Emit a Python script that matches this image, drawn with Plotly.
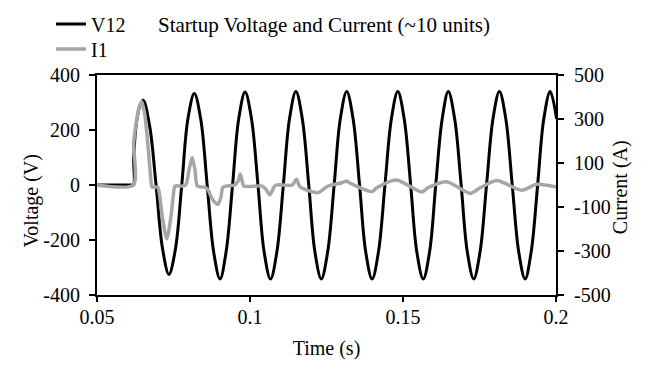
import plotly.graph_objects as go

# ---- data ----
v_time = [0.05, 0.0610, 0.0619, 0.0620, 0.0630, 0.0641, 0.0651, 0.0672, 0.0693, 0.0714, 0.0735,
          0.0756, 0.0777, 0.0797, 0.0818, 0.0839, 0.0860, 0.0881, 0.0902, 0.0922, 0.0943,
          0.0963, 0.0984, 0.1005, 0.1026, 0.1046, 0.1067, 0.1088, 0.1109, 0.1129, 0.1150,
          0.1171, 0.1192, 0.1212, 0.1233, 0.1254, 0.1275, 0.1295, 0.1316, 0.1337, 0.1358,
          0.1378, 0.1399, 0.1420, 0.1441, 0.1462, 0.1483, 0.1504, 0.1525, 0.1545, 0.1566,
          0.1587, 0.1607, 0.1628, 0.1648, 0.1669, 0.1690, 0.1710, 0.1731, 0.1752, 0.1773,
          0.1794, 0.1815, 0.1836, 0.1857, 0.1878, 0.1899, 0.1919, 0.1940, 0.1960, 0.1981,
          0.2002]
v12 = [0, 0, 0, 100, 235, 290, 308, 215, 0, -230, -325,
       -235, 0, 240, 333, 240, 0, -242, -342, -242, 0,
       240, 338, 240, 0, -242, -342, -242, 0, 240, 340,
       240, 0, -242, -342, -242, 0, 240, 340, 240, 0,
       -242, -342, -242, 0, 240, 340, 240, 0, -242, -342,
       -242, 0, 240, 340, 240, 0, -242, -342, -242, 0,
       240, 340, 240, 0, -242, -342, -242, 0, 240, 340,
       240]

i_time = [0.05, 0.0619, 0.0620, 0.0630, 0.0638, 0.0646, 0.0655, 0.0664, 0.0672, 0.0678,
          0.0681, 0.0698, 0.0704, 0.0714, 0.0728, 0.0741, 0.0750, 0.0755, 0.0778, 0.0790,
          0.0801, 0.0811, 0.0820, 0.0828, 0.0852, 0.0862, 0.0877, 0.0895, 0.0905, 0.0912,
          0.0950, 0.0962, 0.0968, 0.0974, 0.0980, 0.1040, 0.1052, 0.1065, 0.1078, 0.1085,
          0.1138, 0.1152, 0.1163, 0.1222, 0.1255, 0.1300, 0.1316, 0.1325, 0.1398, 0.1415,
          0.1479, 0.1561, 0.1582, 0.1643, 0.1719, 0.1750, 0.1806, 0.1888, 0.1937, 0.2002]
i1 = [0, 0, 190, 300, 355, 380, 330, 220, 90, 0,
      -10, -10, -40, -150, -245, -150, -40, -5, -5, 0,
      70, 125, 70, -5, -10, -20, -65, -88, -55, -10,
      0, 20, 50, 20, -5, -5, -20, -45, -10, 0,
      0, 26, -8, -35, -5, 10, 18, 10, -30, -12,
      23, -32, -12, 15, -38, -15, 20, -24, 3, -9]

x_ticks = [0.05, 0.1, 0.15, 0.2]
x_ticklabels = ["0.05", "0.1", "0.15", "0.2"]
yv_ticks = [-400, -200, 0, 200, 400]
yv_ticklabels = ["-400", "-200", "0", "200", "400"]
yi_ticks = [-500, -300, -100, 100, 300, 500]
yi_ticklabels = ["-500", "-300", "-100", "100", "300", "500"]

FONT = "Liberation Serif, Times New Roman, serif"
# the page body adds an 8px margin, so the figure is 8px smaller than the window
W, H = 652, 365

fig = go.Figure()
fig.add_trace(go.Scatter(
    x=v_time, y=v12, name="V12", mode="lines",
    line=dict(color="black", width=3, shape="spline", smoothing=1.0),
    legend="legend",
))
fig.add_trace(go.Scatter(
    x=i_time, y=i1, name="I1", mode="lines", yaxis="y2",
    line=dict(color="#a6a6a6", width=3.5, shape="spline", smoothing=0.7),
    legend="legend2",
))

tickfont = dict(family=FONT, size=20, color="black")
titlefont = dict(family=FONT, size=20, color="black")
axis_common = dict(
    showgrid=False, zeroline=False, showline=True, linecolor="black", linewidth=2,
    ticks="outside", tickwidth=2, tickcolor="black",
    tickfont=tickfont,
)

fig.update_layout(
    width=W, height=H,
    margin=dict(l=89, r=104, t=67, b=78, autoexpand=False),
    paper_bgcolor="white", plot_bgcolor="white",
    font=dict(family=FONT, size=20, color="black"),
    xaxis=dict(range=[0.05, 0.2], tickvals=x_ticks, ticktext=x_ticklabels,
               mirror=True, ticklen=5, ticklabelstandoff=-2, automargin=True,
               title=dict(text="Time (s)", standoff=14, font=titlefont),
               **axis_common),
    yaxis=dict(range=[-400, 400], tickvals=yv_ticks, ticktext=yv_ticklabels,
               ticklen=6, ticklabelstandoff=5, automargin=False,
               **axis_common),
    yaxis2=dict(range=[-500, 500], tickvals=yi_ticks, ticktext=yi_ticklabels,
                overlaying="y", side="right", anchor="x",
                ticklen=6, ticklabelstandoff=6, automargin=False,
                **axis_common),
    legend=dict(xref="container", yref="container", x=43 / W, y=1 - 16 / H,
                xanchor="left", yanchor="middle", bgcolor="rgba(0,0,0,0)",
                font=dict(family=FONT, size=20, color="black")),
    legend2=dict(xref="container", yref="container", x=43 / W, y=1 - 41 / H,
                 xanchor="left", yanchor="middle", bgcolor="rgba(0,0,0,0)",
                 font=dict(family=FONT, size=20, color="black")),
    title=dict(text="Startup Voltage and Current (~10 units)",
               xref="container", yref="container", x=150 / W, xanchor="left",
               y=1 - 17 / H, yanchor="middle",
               font=dict(family=FONT, size=21, color="black")),
    annotations=[
        dict(text="Voltage (V)", textangle=-90, xref="paper", yref="paper",
             x=(23 - 89) / 460, y=0.43, xanchor="center", yanchor="middle",
             showarrow=False, font=titlefont),
        dict(text="Current (A)", textangle=-90, xref="paper", yref="paper",
             x=(612 - 89) / 459, y=0.49, xanchor="center", yanchor="middle",
             showarrow=False, font=titlefont),
    ],
    showlegend=True,
)

fig.write_html("out.html")
